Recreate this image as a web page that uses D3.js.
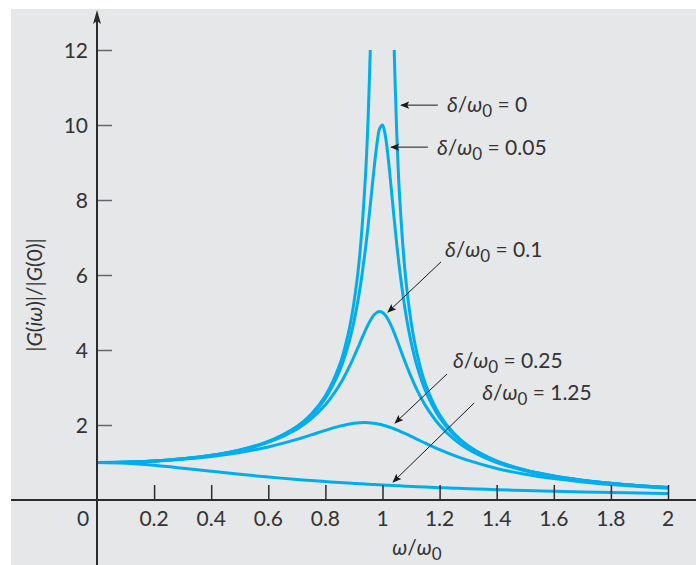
<!DOCTYPE html>
<html><head><meta charset="utf-8">
<script src="https://cdn.jsdelivr.net/npm/d3@7"></script>
<style>
html,body{margin:0;padding:0;background:#fff;}
svg{display:block;}
text{font-family:Lato,"Open Sans",sans-serif;fill:#333;}
</style></head>
<body>
<svg id="c" width="696" height="565"></svg>
<script>
// ---- data ----
const ratio = [0,0.1,0.2,0.3,0.4,0.5,0.6,0.7,0.75,0.8,0.85,0.88,0.9,0.92,0.94,0.95,0.96,0.97,0.98,0.99,1.0,1.01,1.02,1.03,1.04,1.05,1.06,1.08,1.1,1.12,1.15,1.2,1.25,1.3,1.4,1.5,1.6,1.7,1.8,1.9,2.0];
const damp0    = [1,1.0101,1.0417,1.0989,1.1905,1.3333,1.5625,1.9608,2.2857,2.7778,3.6036,4.4326,5.2632,6.5104,8.5911,10.2564,12.7551,null,null,null,null,null,null,null,12.2549,9.7561,8.0906,6.0096,4.7619,3.9308,3.1008,2.2727,1.7778,1.4493,1.0417,0.8,0.641,0.5291,0.4464,0.3831,0.3333];
const damp005  = [1,1.0100,1.0414,1.0983,1.1891,1.3304,1.5557,1.9426,2.2529,2.7116,3.4456,4.1296,4.7565,5.5853,6.6837,7.3461,8.0679,8.8037,9.4609,9.9030,10.0,9.7107,9.1150,8.3572,7.5648,6.8150,6.1415,5.0410,4.2182,3.5976,2.9207,2.1926,1.7355,1.4242,1.0308,0.7943,0.6377,0.5270,0.4450,0.3821,0.3326];
const damp01   = [1,1.0099,1.0408,1.0965,1.1851,1.3216,1.5357,1.8908,2.1622,2.5384,3.0729,3.4949,3.8208,4.1721,4.5225,4.6825,4.8218,4.9309,5.0010,5.0252,5.0,4.9262,4.8086,4.6552,4.4755,4.2794,4.0750,3.6675,3.2880,2.9502,2.5245,1.9952,1.6246,1.3562,1.0,0.7779,0.6279,0.5207,0.4408,0.3791,0.3304];
const damp025  = [1,1.0088,1.0361,1.0843,1.1581,1.2649,1.4148,1.6167,1.7355,1.8582,1.9702,2.0224,2.0472,2.0620,2.0653,2.0623,2.0561,2.0467,2.0342,2.0186,2.0,1.9786,1.9546,1.9283,1.8999,1.8695,1.8375,1.7697,1.6986,1.6258,1.5168,1.3440,1.1893,1.0549,0.8417,0.6860,0.5704,0.4825,0.4142,0.3600,0.3162];
const damp125  = [1,0.9794,0.9239,0.8480,0.7657,0.6860,0.6132,0.5486,0.5194,0.4921,0.4666,0.4522,0.4429,0.4338,0.4250,0.4207,0.4164,0.4122,0.4081,0.4040,0.4,0.3960,0.3921,0.3882,0.3844,0.3807,0.3769,0.3697,0.3626,0.3557,0.3457,0.3298,0.3149,0.3010,0.2755,0.2530,0.2329,0.2150,0.1989,0.1845,0.1715];
const seriesList = [damp0, damp005, damp01, damp025, damp125];
const xTicks = [0.2,0.4,0.6,0.8,1,1.2,1.4,1.6,1.8,2];
const xTickLabels = ["0.2","0.4","0.6","0.8","1","1.2","1.4","1.6","1.8","2"];
const yTicks = [2,4,6,8,10,12];
const yTickLabels = ["2","4","6","8","10","12"];
// annotation labels: value text, text anchor point and arrow in data units
const annLabels = ["0","0.05","0.1","0.25","1.25"];
const annText   = [[1.226,10.35],[1.191,9.2],[1.219,6.48],[1.247,3.52],[1.349,2.667]];
const annFrom   = [[1.194,10.53],[1.159,9.41],[1.205,6.35],[1.226,3.36],[1.321,2.587]];
const annTo     = [[1.065,10.53],[1.030,9.41],[1.019,5.01],[1.044,2.053],[1.037,0.48]];

// ---- drawing ----
const svg = d3.select("#c");
const W = 696, H = 565, FS = 21;
svg.append("rect").attr("x",11).attr("y",9).attr("width",W-11).attr("height",H-9).attr("fill","#e6e7e8");

const x = d3.scaleLinear().domain([0,2]).range([97,668]);
const y = d3.scaleLinear().domain([0,12]).range([500,50]);

const defs = svg.append("defs");
defs.append("clipPath").attr("id","clip").append("rect")
  .attr("x",x(0)).attr("y",y(12)).attr("width",x(2)-x(0)+2).attr("height",y(0)-y(12)+5);
defs.append("marker").attr("id","arr").attr("viewBox","0 0 10 10").attr("refX",9).attr("refY",5)
  .attr("markerWidth",9).attr("markerHeight",9).attr("markerUnits","userSpaceOnUse").attr("orient","auto")
  .append("path").attr("d","M0,1 L10,5 L0,9 L2,5 Z").attr("fill","#1a1a1a");

// curves
const line = d3.line().defined(d=>d[1]!==null).x(d=>x(d[0])).y(d=>y(d[1])).curve(d3.curveCatmullRom.alpha(0.5));
const gC = svg.append("g").attr("clip-path","url(#clip)");
seriesList.forEach(s=>{
  gC.append("path").datum(ratio.map((r,i)=>[r,s[i]]))
    .attr("d",line).attr("fill","none").attr("stroke","#00aeef").attr("stroke-width",3).attr("stroke-linejoin","round");
});

// x axis line
svg.append("line").attr("x1",11).attr("x2",W).attr("y1",y(0)).attr("y2",y(0)).attr("stroke","#2b2b2b").attr("stroke-width",2);
// x ticks
const xAxis = d3.axisTop(x).tickValues(xTicks).tickSize(15).tickFormat("");
const gx = svg.append("g").attr("transform",`translate(0,${y(0)})`).call(xAxis);
gx.select(".domain").remove();
gx.selectAll(".tick line").attr("stroke","#2b2b2b").attr("stroke-width",1.5);
svg.selectAll(".xl").data(xTicks).enter().append("text").attr("class","xl")
  .attr("x",d=>x(d)).attr("y",526).attr("text-anchor","middle").attr("font-size",FS)
  .text((d,i)=>xTickLabels[i]);
svg.append("text").attr("x",x(0)-14).attr("y",526).attr("text-anchor","middle").attr("font-size",FS).text("0");

// y axis
const yAxis = d3.axisRight(y).tickValues(yTicks).tickSize(15).tickFormat("");
const gy = svg.append("g").attr("transform",`translate(${x(0)},0)`).call(yAxis);
gy.select(".domain").remove();
gy.selectAll(".tick line").attr("stroke","#666").attr("stroke-width",1.5);
svg.selectAll(".yl").data(yTicks).enter().append("text").attr("class","yl")
  .attr("x",x(0)-9).attr("y",d=>y(d)).attr("dy","0.36em").attr("text-anchor","end").attr("font-size",FS)
  .text((d,i)=>yTickLabels[i]);
svg.append("line").attr("x1",x(0)).attr("x2",x(0)).attr("y1",H).attr("y2",20).attr("stroke","#2b2b2b").attr("stroke-width",2);
svg.append("path").attr("d",`M${x(0)},10 L${x(0)+4},24 L${x(0)},21 L${x(0)-4},24 Z`).attr("fill","#2b2b2b");

// axis titles
const xt = svg.append("text").attr("x",417).attr("y",555).attr("text-anchor","middle").attr("font-size",FS);
xt.append("tspan").attr("font-style","italic").text("ω");
xt.append("tspan").text("/");
xt.append("tspan").attr("font-style","italic").text("ω");
xt.append("tspan").attr("dy",5).attr("font-size",17).text("0");

const yt = svg.append("text").attr("transform","translate(42,295) rotate(-90)").attr("text-anchor","middle").attr("font-size",FS);
yt.append("tspan").text("|");
yt.append("tspan").attr("font-style","italic").text("G");
yt.append("tspan").text("(");
yt.append("tspan").attr("font-style","italic").text("iω");
yt.append("tspan").text(")|/|");
yt.append("tspan").attr("font-style","italic").text("G");
yt.append("tspan").text("(0)|");

// annotations
annLabels.forEach((lab,i)=>{
  svg.append("line").attr("x1",x(annFrom[i][0])).attr("y1",y(annFrom[i][1]))
    .attr("x2",x(annTo[i][0])).attr("y2",y(annTo[i][1]))
    .attr("stroke","#1a1a1a").attr("stroke-width",1).attr("marker-end","url(#arr)");
  const t = svg.append("text").attr("x",x(annText[i][0])).attr("y",y(annText[i][1])).attr("font-size",FS);
  t.append("tspan").attr("font-style","italic").text("δ");
  t.append("tspan").text("/");
  t.append("tspan").attr("font-style","italic").text("ω");
  t.append("tspan").attr("dy",5).attr("font-size",17).text("0");
  t.append("tspan").attr("dy",-5).text(" = " + lab);
});
</script>
</body></html>
